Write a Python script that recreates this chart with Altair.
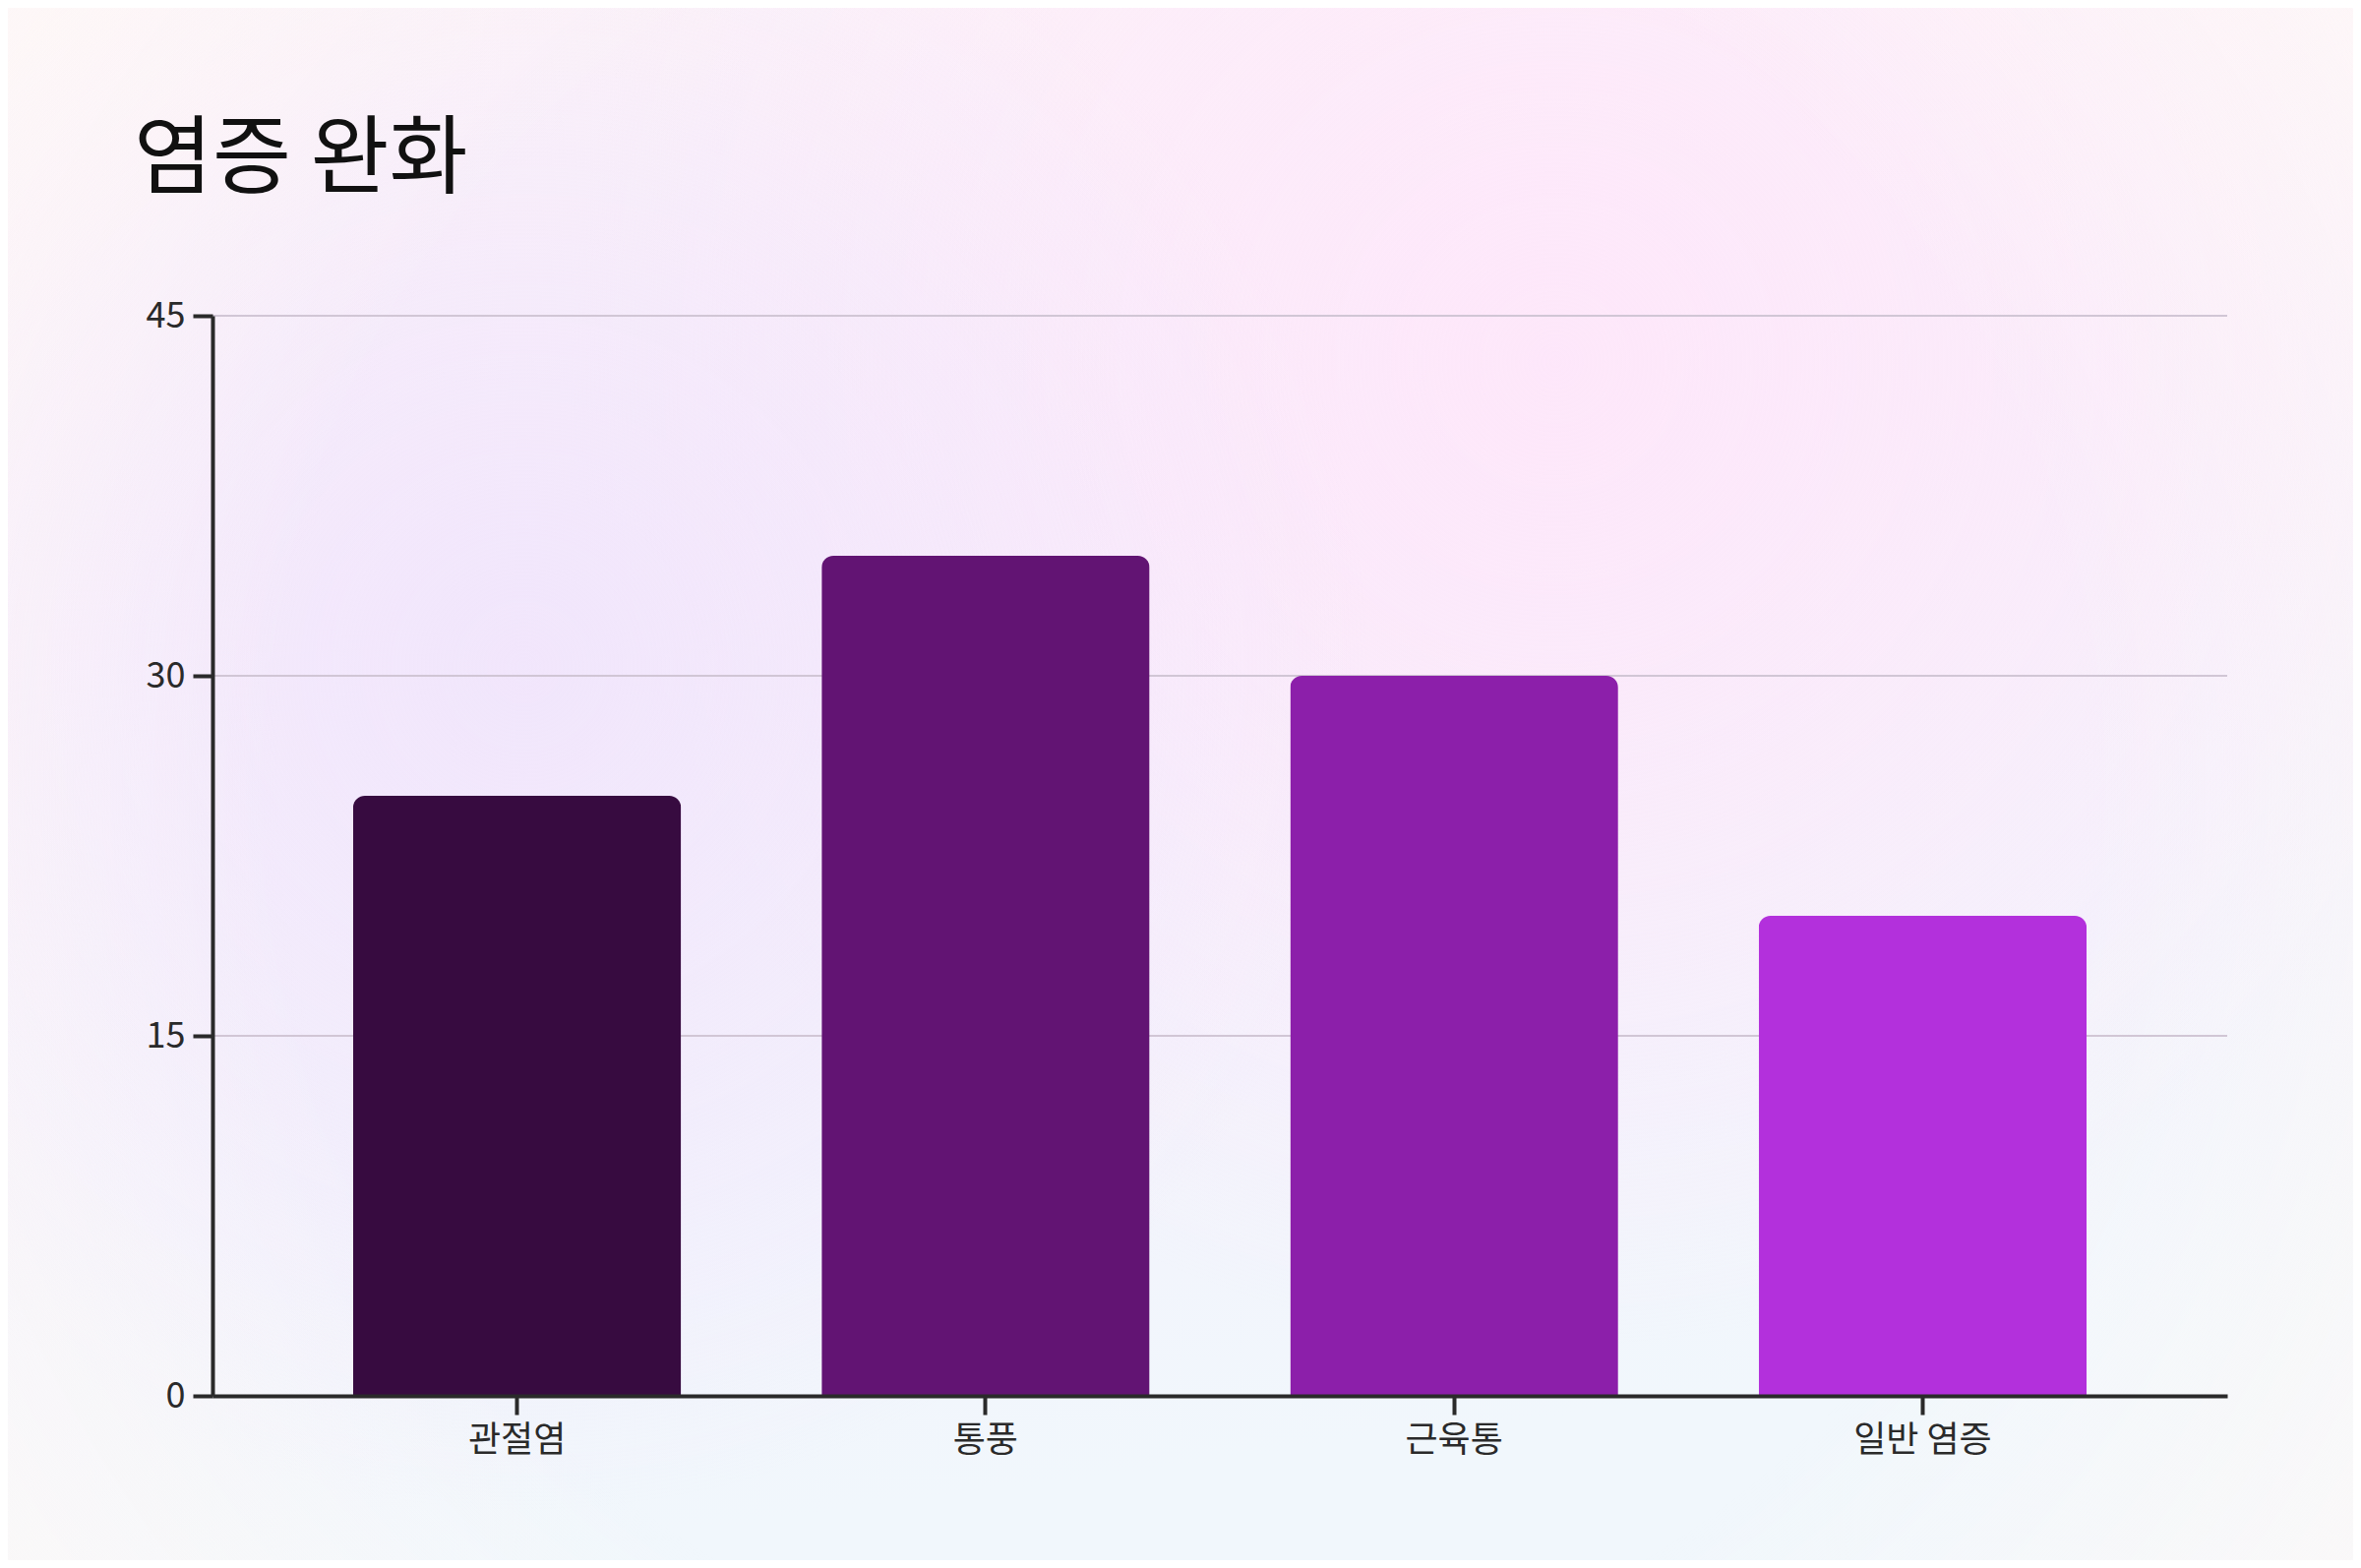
import pandas as pd
import altair as alt

categories = ["관절염", "통풍", "근육통", "일반 염증"]
values = [25, 35, 30, 20]
bar_colors = ["#370b40", "#621473", "#8c1faa", "#b330dc"]
y_ticks = [0, 15, 30, 45]

W, H = 2048, 1098
PAD = {"left": 208, "top": 313, "right": 128, "bottom": 167}
FONT = "Noto Sans CJK KR"
INK = "#2a2a2a"

df = pd.DataFrame({"category": categories, "value": values})
grid_df = pd.DataFrame({"value": y_ticks})
one = pd.DataFrame({"k": [0]})


def backdrop(fill):
    # full-page rect behind everything (soft gradient wash)
    return alt.Chart(one).mark_rect(fill=fill).encode(
        x=alt.value(-PAD["left"]),
        x2=alt.value(W + PAD["right"]),
        y=alt.value(-PAD["top"]),
        y2=alt.value(H + PAD["bottom"]),
    )


wash = backdrop({
    "gradient": "linear", "x1": 0, "y1": 0, "x2": 0.2, "y2": 1,
    "stops": [
        {"offset": 0.0, "color": "#fdf4f8"},
        {"offset": 0.4, "color": "#f8effb"},
        {"offset": 0.75, "color": "#f3f3fc"},
        {"offset": 1.0, "color": "#f1f7fc"},
    ],
})
pink_glow = backdrop({
    "gradient": "radial", "x1": 0.66, "y1": 0.32, "x2": 0.66, "y2": 0.32, "r1": 0, "r2": 0.42,
    "stops": [
        {"offset": 0.0, "color": "rgba(254,230,250,0.9)"},
        {"offset": 1.0, "color": "rgba(254,230,250,0)"},
    ],
})
lilac_glow = backdrop({
    "gradient": "radial", "x1": 0.22, "y1": 0.45, "x2": 0.22, "y2": 0.45, "r1": 0, "r2": 0.36,
    "stops": [
        {"offset": 0.0, "color": "rgba(240,228,252,0.85)"},
        {"offset": 1.0, "color": "rgba(240,228,252,0)"},
    ],
})
vignette = backdrop({
    "gradient": "radial", "x1": 0.5, "y1": 0.5, "x2": 0.5, "y2": 0.5, "r1": 0, "r2": 0.7,
    "stops": [
        {"offset": 0.0, "color": "rgba(254,249,247,0)"},
        {"offset": 0.55, "color": "rgba(254,249,247,0)"},
        {"offset": 1.0, "color": "rgba(254,249,247,1)"},
    ],
})

y_scale = alt.Scale(domain=[0, 45], nice=False)
y_axis = alt.Axis(
    values=y_ticks, title=None, grid=False, zindex=1,
    labelFont=FONT, labelFontSize=36, labelColor=INK, labelPadding=8,
    tickSize=20, tickWidth=4, tickColor=INK,
    domainColor=INK, domainWidth=4,
)
x_axis = alt.Axis(
    title=None, labelAngle=0, grid=False, zindex=1,
    labelFont=FONT, labelFontSize=36, labelColor=INK, labelPadding=9,
    tickSize=19, tickWidth=4, tickColor=INK,
    domainColor=INK, domainWidth=4,
)

grid = alt.Chart(grid_df).mark_rule(color="#d1c6d5", strokeWidth=2).encode(
    y=alt.Y("value:Q", scale=y_scale, axis=y_axis),
)

bars = alt.Chart(df).mark_bar(cornerRadiusTopLeft=12, cornerRadiusTopRight=12).encode(
    x=alt.X(
        "category:N",
        sort=categories,
        scale=alt.Scale(paddingInner=0.3, paddingOuter=0.3),
        axis=x_axis,
    ),
    y=alt.Y("value:Q", scale=y_scale, axis=y_axis),
    color=alt.Color(
        "category:N",
        scale=alt.Scale(domain=categories, range=bar_colors),
        legend=None,
    ),
    tooltip=["category:N", "value:Q"],
)

chart = alt.layer(wash, pink_glow, lilac_glow, vignette, grid, bars).properties(
    width=W,
    height=H,
    padding=PAD,
    autosize=alt.AutoSizeParams(type="none"),
    background="#fdf8f7",
    title=alt.TitleParams(
        "염증 완화",
        anchor="start",
        font=FONT,
        fontSize=87,
        fontWeight="normal",
        color="#111111",
        baseline="alphabetic",
        dx=128,
        offset=-269,
    ),
).configure_view(stroke=None)

chart.save("out.html", embed_options={"renderer": "svg", "actions": False})
